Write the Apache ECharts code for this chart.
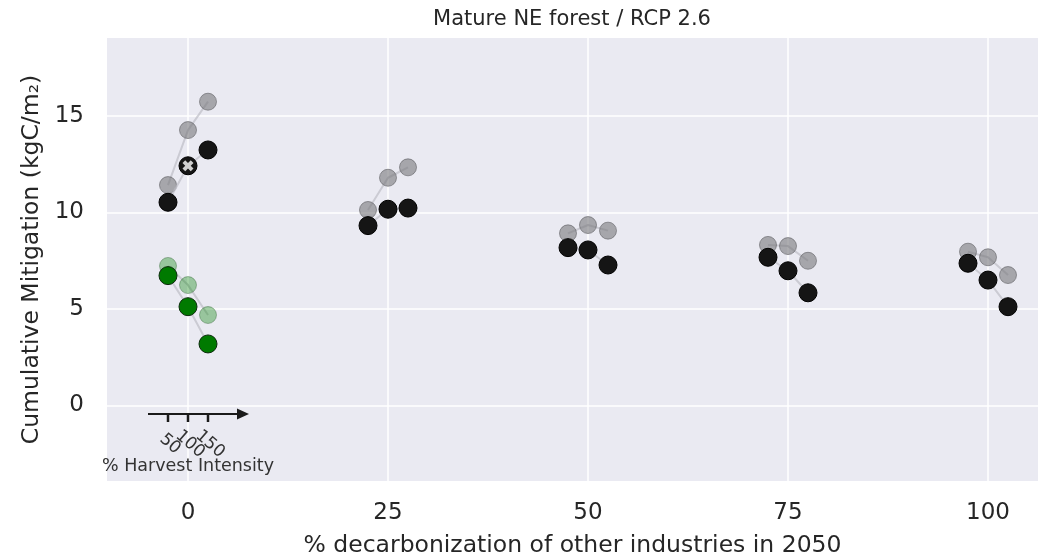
<!DOCTYPE html>
<html>
<head>
<meta charset="utf-8">
<script src="https://cdn.jsdelivr.net/npm/echarts@6/dist/echarts.min.js"></script>
<style>
  html, body { margin: 0; padding: 0; background: #fff; }
  #chart { width: 1039px; height: 556px; }
</style>
</head>
<body>
<div id="chart"></div>
<script>
// decarbonization levels and the three harvest-intensity offsets
const groups = [0, 25, 50, 75, 100]
const offsets = [-2.5, 0, 2.5]
const xTicks = [0, 25, 50, 75, 100]
const yTicks = [0, 5, 10, 15]

// cumulative mitigation, one row per decarbonization level (50 / 100 / 150 %)
const grayVals = [
  [11.42, 14.27, 15.74],
  [10.13, 11.80, 12.34],
  [8.92, 9.35, 9.06],
  [8.32, 8.26, 7.50],
  [7.97, 7.68, 6.76]
]
const blackVals = [
  [10.53, 12.42, 13.24],
  [9.32, 10.17, 10.23],
  [8.18, 8.06, 7.28],
  [7.68, 6.98, 5.84],
  [7.37, 6.50, 5.12]
]
const greenLight = [7.23, 6.24, 4.69]
const greenDark = [6.73, 5.12, 3.19]

// harvest intensity inset
const harvestLabels = ['50', '100', '150']

const TXT = '#262626'
const FONT = 'DejaVu Sans'
const LINE = 'rgba(190,190,198,0.7)'

function pts(base, vals) {
  return vals.map((v, i) => [base + offsets[i], v])
}

const series = []
groups.forEach((g, gi) => {
  series.push({
    type: 'line', z: 2, data: pts(g, grayVals[gi]),
    symbol: 'circle', symbolSize: 17, showSymbol: true,
    lineStyle: { color: LINE, width: 2 },
    itemStyle: { color: 'rgba(120,120,124,0.6)', borderColor: 'rgba(85,85,90,0.55)', borderWidth: 1 },
    emphasis: { disabled: true }, animation: false
  })
})
groups.forEach((g, gi) => {
  series.push({
    type: 'line', z: 3, data: pts(g, blackVals[gi]),
    symbol: 'circle', symbolSize: 18, showSymbol: true,
    lineStyle: { color: LINE, width: 2 },
    itemStyle: { color: '#151515', borderColor: '#000', borderWidth: 1 },
    emphasis: { disabled: true }, animation: false
  })
})
series.push({
  type: 'line', z: 2, data: pts(0, greenLight),
  symbol: 'circle', symbolSize: 17,
  lineStyle: { color: LINE, width: 2 },
  itemStyle: { color: 'rgba(0,128,0,0.35)', borderColor: 'rgba(0,60,0,0.3)', borderWidth: 1 },
  emphasis: { disabled: true }, animation: false
})
series.push({
  type: 'line', z: 3, data: pts(0, greenDark),
  symbol: 'circle', symbolSize: 18,
  lineStyle: { color: LINE, width: 2 },
  itemStyle: { color: '#007a00', borderColor: '#0b2a0b', borderWidth: 1 },
  emphasis: { disabled: true }, animation: false
})
// white cross over the reference run
series.push({
  type: 'scatter', z: 5, data: [[groups[0] + offsets[1], blackVals[0][1]]],
  symbol: 'path://M2.5,0 L5,2.5 L7.5,0 L10,2.5 L7.5,5 L10,7.5 L7.5,10 L5,7.5 L2.5,10 L0,7.5 L2.5,5 L0,2.5 Z',
  symbolSize: 11,
  itemStyle: { color: '#fff' },
  emphasis: { disabled: true }, animation: false
})
// harvest intensity arrow
series.push({
  type: 'custom', z: 4, clip: false, animation: false, silent: true,
  data: [[0, -0.44]],
  renderItem: function (params, api) {
    const y0 = api.value(1)
    const a = api.coord([-5, y0])
    const b = api.coord([7.5, y0])
    const kids = [
      { type: 'line', shape: { x1: a[0], y1: a[1], x2: b[0] - 6, y2: b[1] }, style: { stroke: '#1a1a1a', lineWidth: 2 } },
      { type: 'polygon', shape: { points: [[b[0] - 11, b[1] - 5.5], [b[0] + 1, b[1]], [b[0] - 11, b[1] + 5.5]] }, style: { fill: '#1a1a1a' } }
    ]
    offsets.forEach((o, i) => {
      const p = api.coord([o, y0])
      kids.push({ type: 'line', shape: { x1: p[0], y1: p[1], x2: p[0], y2: p[1] + 8 }, style: { stroke: '#1a1a1a', lineWidth: 2.5 } })
      kids.push({
        type: 'text', x: p[0] + 2, y: p[1] + 30, rotation: -0.72,
        style: { text: harvestLabels[i], font: '17px ' + FONT, fill: '#333', align: 'center', verticalAlign: 'middle' }
      })
    })
    const c = api.coord([0, y0])
    kids.push({
      type: 'text', x: c[0], y: c[1] + 52,
      style: { text: '% Harvest Intensity', font: '17.5px ' + FONT, fill: '#333', align: 'center', verticalAlign: 'middle' }
    })
    return { type: 'group', children: kids }
  }
})

const chart = echarts.init(document.getElementById('chart'), null, { renderer: 'canvas' })
chart.setOption({
  animation: false,
  backgroundColor: '#fff',
  textStyle: { fontFamily: FONT },
  graphic: [{
    type: 'text', x: 572, y: 20,
    style: { text: 'Mature NE forest / RCP 2.6', font: '21px ' + FONT, fill: TXT, align: 'center', verticalAlign: 'middle' }
  }],
  grid: {
    left: 107, right: 1, top: 38, bottom: 75,
    show: true, backgroundColor: '#EAEAF2', borderWidth: 0,
    outerBoundsMode: 'none'
  },
  xAxis: {
    type: 'value', min: -10.125, max: 106.25,
    axisLine: { show: false },
    axisTick: { show: false, customValues: xTicks },
    axisLabel: { customValues: xTicks, fontSize: 23, color: TXT, margin: 21, fontFamily: FONT },
    splitLine: { show: true, lineStyle: { color: '#fff', width: 1.5 } },
    name: '% decarbonization of other industries in 2050',
    nameLocation: 'middle', nameGap: 53,
    nameTextStyle: { fontSize: 23.5, color: TXT, fontFamily: FONT }
  },
  yAxis: {
    type: 'value', min: -3.91, max: 19.04,
    axisLine: { show: false },
    axisTick: { show: false, customValues: yTicks },
    axisLabel: { customValues: yTicks, fontSize: 23, color: TXT, margin: 23, fontFamily: FONT },
    splitLine: { show: true, lineStyle: { color: '#fff', width: 1.5 } },
    name: 'Cumulative Mitigation (kgC/m\u2082)',
    nameLocation: 'middle', nameGap: 61,
    nameTextStyle: { fontSize: 23.5, color: TXT, fontFamily: FONT }
  },
  series: series
})
</script>
</body>
</html>
